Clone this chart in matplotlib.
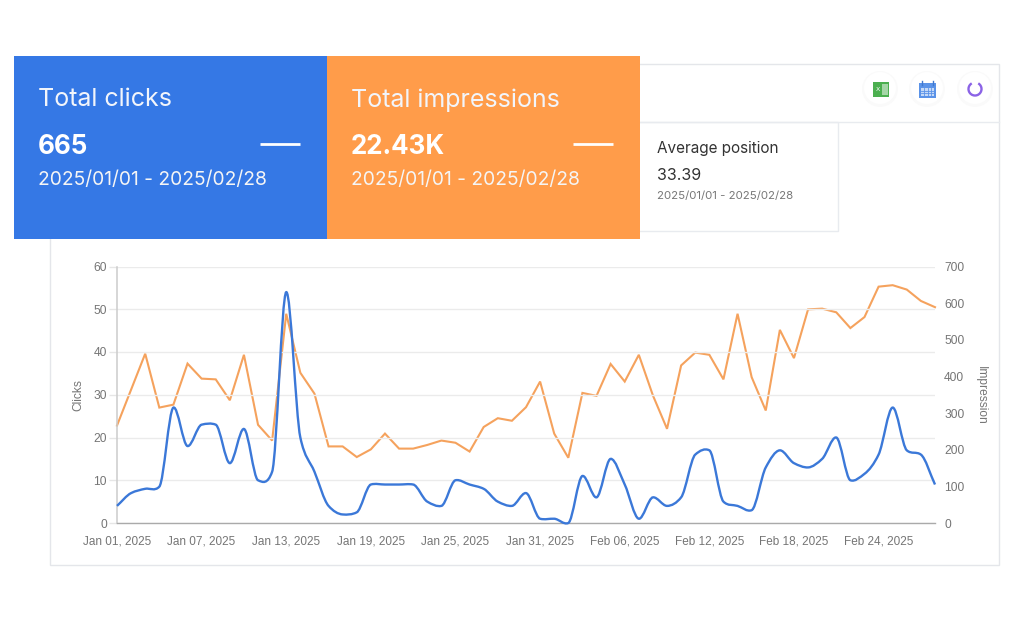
#!/usr/bin/env python3
"""Search console style dashboard: two KPI cards over a clicks/impressions chart."""

import numpy as np
import matplotlib

matplotlib.use("Agg")
import matplotlib.pyplot as plt  # noqa: E402
from matplotlib.patches import Circle, PathPatch, Rectangle, Arc  # noqa: E402
from matplotlib.path import Path  # noqa: E402

# --- values ------------------------------------------------------------------
CLICKS = [4, 7, 8, 8.5, 27, 18, 23, 23, 14, 22, 10, 12, 54, 20, 12, 4, 2, 2.5, 9,
          9, 9, 9, 5, 4, 10, 9, 8, 5, 4, 7, 1, 1, 0, 11, 6, 15, 9, 1, 6, 4,
          6, 16, 17, 5, 4, 3, 13, 17, 14, 13, 15, 20, 10, 11.5, 16, 27, 17, 16, 9]
IMPRESSIONS = [266, 364, 462, 315, 323, 435, 394, 392, 335, 459, 268, 225, 571,
               410, 353, 209, 209, 180, 201, 244, 203, 203, 213, 225, 219, 195,
               262, 286, 279, 316, 386, 244, 178, 355, 347, 434, 386, 459, 348,
               257, 430, 465, 459, 392, 571, 398, 307, 527, 450, 583, 585, 575,
               532, 562, 645, 649, 637, 606, 589]
DATE_TICKS = [0, 6, 12, 18, 24, 30, 36, 42, 48, 54]
DATE_LABELS = ["Jan 01, 2025", "Jan 07, 2025", "Jan 13, 2025", "Jan 19, 2025",
               "Jan 25, 2025", "Jan 31, 2025", "Feb 06, 2025", "Feb 12, 2025",
               "Feb 18, 2025", "Feb 24, 2025"]
CLICK_TICKS = [0, 10, 20, 30, 40, 50, 60]
IMPRESSION_TICKS = [0, 100, 200, 300, 400, 500, 600, 700]

BLUE = "#3578e5"
ORANGE = "#ff9c4a"
LINE_BLUE = "#3b78d8"
LINE_ORANGE = "#f5a25d"
CARD_FONT = ["Inter", "DejaVu Sans"]
W, H = 1014, 621


def px(size):
    # font size given in image pixels
    return size * 72 / 100


def smooth_path(xs, ys):
    # cubic segments through the points, tangents mostly monotone with a bit of
    # central difference so that flat runs still round off
    xs = np.asarray(xs, dtype=float)
    ys = np.asarray(ys, dtype=float)
    slopes = np.diff(ys) / np.diff(xs)
    tangents = np.zeros(len(ys))
    tangents[0] = slopes[0]
    tangents[-1] = slopes[-1]
    for i in range(1, len(ys) - 1):
        a, b = slopes[i - 1], slopes[i]
        harmonic = 2 * a * b / (a + b) if a * b > 0 else 0.0
        tangents[i] = 0.7 * harmonic + 0.3 * (a + b) / 2
    verts = [(xs[0], ys[0])]
    codes = [Path.MOVETO]
    for i in range(len(ys) - 1):
        step = (xs[i + 1] - xs[i]) / 3
        verts.append((xs[i] + step, ys[i] + tangents[i] * step))
        verts.append((xs[i + 1] - step, ys[i + 1] - tangents[i + 1] * step))
        verts.append((xs[i + 1], ys[i + 1]))
        codes += [Path.CURVE4] * 3
    return Path(verts, codes)


def draw_card(bg, x, color, title, value):
    bg.add_patch(Rectangle((x, 56), 313, 183, color=color, lw=0, zorder=3))
    tx = x + 24
    bg.text(tx, 100, title, color="#f2f5fb", fontsize=px(25), family=CARD_FONT,
            va="center", zorder=4)
    bg.text(tx, 147, value, color="white", fontsize=px(26), family=CARD_FONT,
            fontweight="bold", va="center", zorder=4)
    bg.text(tx, 180, "2025/01/01 - 2025/02/28", color="#f5f5f5", fontsize=px(19.2),
            family=CARD_FONT, va="center", zorder=4)
    bg.plot([x + 246, x + 286], [144, 144], color="white", lw=2.0,
            solid_capstyle="butt", zorder=4)


def draw_icons(bg):
    for cx in (880, 927, 975):
        bg.add_patch(Circle((cx, 89), 18, color="#fafafa", lw=0, zorder=2))
        bg.add_patch(Circle((cx, 88), 16, color="white", lw=0, zorder=2))
    # excel sheet
    bg.add_patch(Rectangle((873, 82), 16, 15, color="#4caf50", lw=0, zorder=3))
    bg.add_patch(Rectangle((882, 84), 6, 11, color="#a5d6a7", lw=0, zorder=3))
    bg.text(877.5, 89.5, "X", color="white", fontsize=4.5, ha="center",
            va="center", zorder=4)
    # calendar
    bg.add_patch(Rectangle((919, 83), 17, 15, color="#5b93e8", lw=0, zorder=3))
    bg.add_patch(Rectangle((921, 88), 13, 8, color="#c5d9f7", lw=0, zorder=3))
    for gx in (924, 927.5, 931):
        bg.plot([gx, gx], [88, 96], color="#5b93e8", lw=0.6, zorder=4)
    for gy in (90.5, 93):
        bg.plot([921, 934], [gy, gy], color="#5b93e8", lw=0.6, zorder=4)
    for gx in (922, 933):
        bg.plot([gx, gx], [81, 85], color="#3f78d0", lw=1, zorder=4)
    # refresh ring
    bg.add_patch(Arc((975, 89), 13, 13, theta1=300, theta2=600, color="#8b63e6",
                     lw=1.7, zorder=3))


def main():
    fig = plt.figure(figsize=(W / 100, H / 100), dpi=100, facecolor="white")

    # pixel-space layer for the panel, cards and icons
    bg = fig.add_axes([0, 0, 1, 1])
    bg.set_xlim(0, W)
    bg.set_ylim(H, 0)
    bg.axis("off")
    bg.add_patch(Rectangle((50, 64), 949, 501, fc="white", ec="#e4e6ea", lw=1))
    bg.plot([640, 999], [122, 122], color="#e8ebef", lw=1)
    bg.add_patch(Rectangle((600, 122), 238, 109, fc="white", ec="#e8ebef", lw=1))
    bg.text(657, 148, "Average position", color="#333333", fontsize=px(15.3),
            family=CARD_FONT, va="center")
    bg.text(657, 176, "33.39", color="#333333", fontsize=px(16),
            family=CARD_FONT, va="center")
    bg.text(657, 196, "2025/01/01 - 2025/02/28", color="#777777", fontsize=px(11.5),
            family=CARD_FONT, va="center")
    draw_card(bg, 14, BLUE, "Total clicks", "665")
    draw_card(bg, 327, ORANGE, "Total impressions", "22.43K")
    draw_icons(bg)

    # chart
    left, right, top, bottom = 117, 935, 266.5, 523
    ax = fig.add_axes([left / W, 1 - bottom / H, (right - left) / W, (bottom - top) / H])
    ax2 = ax.twinx()
    ax.set_zorder(2)
    ax2.set_zorder(1)
    ax.patch.set_visible(False)
    ax2.patch.set_visible(False)

    days = np.arange(len(CLICKS))
    ax.set_xlim(0, len(CLICKS) - 1)
    ax.set_ylim(0, 60)
    ax2.set_ylim(0, 700)

    ax.add_patch(PathPatch(smooth_path(days, CLICKS), fc="none", ec=LINE_BLUE,
                           lw=1.7, clip_on=False, zorder=3))
    ax2.plot(days, IMPRESSIONS, color=LINE_ORANGE, lw=1.5, zorder=3,
             solid_joinstyle="miter", clip_on=False)

    ax.set_xticks(DATE_TICKS)
    ax.set_xticklabels(DATE_LABELS)
    ax.set_yticks(CLICK_TICKS)
    ax2.set_yticks(IMPRESSION_TICKS)
    ax.tick_params(axis="x", length=0, pad=9, labelsize=px(11.7), labelcolor="#757575")
    ax.tick_params(axis="y", length=6, width=1, color="#e6e6e6", pad=1.2,
                   labelsize=px(12), labelcolor="#757575")
    ax2.tick_params(axis="y", length=0, pad=6.5, labelsize=px(12), labelcolor="#757575")
    ax.grid(axis="y", color="#ebebeb", lw=1)
    ax.set_axisbelow(True)
    for a in (ax, ax2):
        for side in ("top", "right", "bottom", "left"):
            a.spines[side].set_visible(False)
    ax.spines["left"].set_visible(True)
    ax.spines["left"].set_color("#cccccc")
    ax.spines["left"].set_linewidth(1.1)
    ax.spines["bottom"].set_visible(True)
    ax.spines["bottom"].set_color("#aaaaaa")
    ax.spines["bottom"].set_linewidth(1)

    bg.text(78, 395, "Clicks", color="#757575", fontsize=px(12), rotation=90,
            ha="center", va="center", family="Liberation Sans")
    bg.text(981, 395, "Impression", color="#757575", fontsize=px(12), rotation=270,
            ha="center", va="center", family="Liberation Sans")
    for label in ax.get_xticklabels() + ax.get_yticklabels() + ax2.get_yticklabels():
        label.set_family("Liberation Sans")

    fig.savefig("out.png", dpi=100)
    plt.close(fig)


if __name__ == "__main__":
    main()
